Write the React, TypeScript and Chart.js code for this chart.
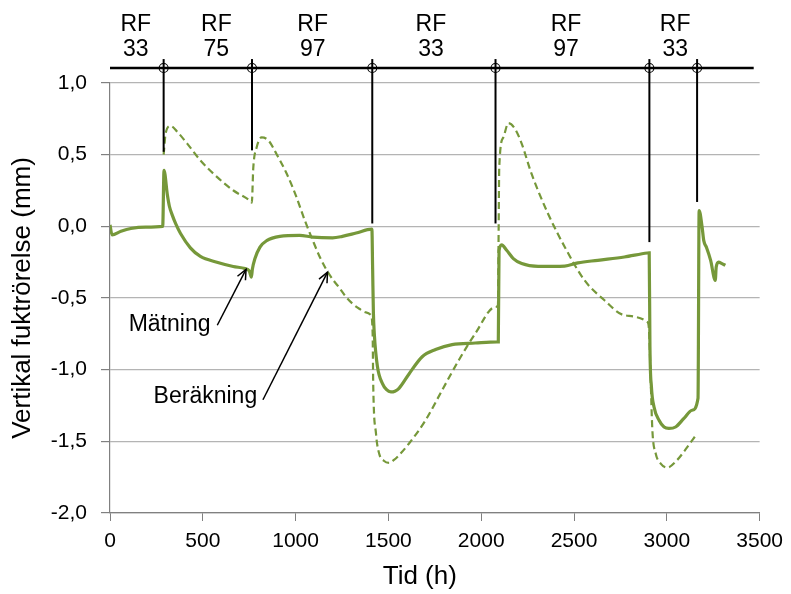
import React, { useEffect, useRef } from "react";
import { Chart, registerables } from "chart.js";

Chart.register(...registerables);

// Measured vertical moisture movement (Mätning)
const measTime = [
  0, 11, 59, 112, 193, 284, 291, 309, 320, 335, 355, 380, 433, 487, 576, 664, 728, 750, 762, 767,
  781, 808, 844, 915, 1022, 1092, 1199, 1252, 1326, 1411, 1415, 1419, 1424, 1441, 1468, 1490, 1513,
  1535, 1557, 1611, 1682, 1754, 1843, 1968, 2084, 2092, 2096, 2110, 2137, 2173, 2218, 2307, 2450,
  2521, 2628, 2771, 2895, 2905, 2909, 2917, 2931, 2958, 2985, 3011, 3047, 3092, 3136, 3168, 3174,
  3190, 3199, 3213, 3236, 3261, 3266, 3279, 3297, 3315,
];
const measValue = [
  0.01, -0.06, -0.035, -0.015, -0.005, 0.0, 0.39, 0.22, 0.14, 0.08, 0.015, -0.05, -0.15, -0.21,
  -0.25, -0.28, -0.295, -0.31, -0.355, -0.3, -0.225, -0.145, -0.1, -0.07, -0.063, -0.075, -0.08,
  -0.07, -0.047, -0.02, -0.3, -0.6, -0.75, -0.98, -1.097, -1.14, -1.155, -1.15, -1.13, -1.03, -0.91,
  -0.86, -0.825, -0.814, -0.806, -0.806, -0.17, -0.13, -0.167, -0.225, -0.26, -0.28, -0.277, -0.255,
  -0.237, -0.214, -0.186, -0.185, -0.84, -1.12, -1.26, -1.353, -1.4, -1.41, -1.4, -1.34, -1.283,
  -1.2, 0.11, -0.005, -0.1, -0.145, -0.237, -0.377, -0.284, -0.25, -0.26, -0.272,
];

// Calculated vertical moisture movement (Beräkning)
const calcTime = [
  289, 300, 326, 362, 416, 487, 576, 665, 755, 764, 772, 790, 817, 853, 897, 951, 1000, 1050, 1093,
  1129, 1165, 1200, 1236, 1270, 1307, 1343, 1379, 1406, 1415, 1418, 1433, 1450, 1475, 1504, 1530,
  1557, 1611, 1700, 1789, 1879, 1968, 2075, 2090, 2094, 2097, 2119, 2146, 2182, 2218, 2271, 2360,
  2450, 2557, 2664, 2771, 2895, 2904, 2913, 2922, 2940, 2967, 3002, 3056, 3110, 3163,
];
const calcValue = [
  0.5, 0.65, 0.7, 0.66, 0.577, 0.46, 0.345, 0.25, 0.177, 0.165, 0.41, 0.55, 0.62, 0.6, 0.505, 0.37,
  0.22, 0.04, -0.1, -0.21, -0.3, -0.37, -0.43, -0.49, -0.54, -0.575, -0.6, -0.62, -0.75, -1.095,
  -1.445, -1.585, -1.635, -1.65, -1.63, -1.597, -1.515, -1.353, -1.144, -0.934, -0.748, -0.563,
  -0.55, 0.0, 0.41, 0.62, 0.72, 0.68, 0.577, 0.367, 0.088, -0.144, -0.377, -0.516, -0.62, -0.667,
  -0.725, -1.074, -1.42, -1.585, -1.655, -1.683, -1.63, -1.54, -1.446,
];

// Climate changes (RF) at the top
const eventTime = [289, 765, 1413, 2077, 2906, 3163];
const eventLineEnd = [0.52, 0.53, 0.02, 0.02, -0.11, 0.17];
const eventLineTop = 1.167;
const topLineLevel = 1.105;
const topLineStart = 0;
const topLineEnd = 3468;
const rfLabelTime = [139, 573, 1092, 1729, 2457, 3045];
const rfLabelValue = ["33", "75", "97", "33", "97", "33"];
const rfRowValue = [1.41, 1.235];

// Arrow annotations
const arrowText = ["Mätning", "Beräkning"];
const arrowTextTime = [321, 514];
const arrowTextValue = [-0.683, -1.19];
const arrowTailTime = [578, 824];
const arrowTailValue = [-0.69, -1.21];
const arrowTipTime = [733, 1172];
const arrowTipValue = [-0.3, -0.32];

const xMin = 0;
const xMax = 3500;
const xStep = 500;
const yMin = -2;
const yMax = 1;
const yStep = 0.5;

const FONT = "'Liberation Sans', Arial, sans-serif";
const GREEN = "#76983a";

const overlayPlugin = {
  id: "overlay",
  afterDraw(chart: any) {
    const { ctx, chartArea } = chart;
    const x = chart.scales.x;
    const y = chart.scales.y;
    ctx.save();
    ctx.strokeStyle = "#000";
    ctx.fillStyle = "#000";

    // top horizontal line
    const yTop = y.getPixelForValue(topLineLevel);
    ctx.lineWidth = 2.5;
    ctx.beginPath();
    ctx.moveTo(x.getPixelForValue(topLineStart), yTop);
    ctx.lineTo(x.getPixelForValue(topLineEnd), yTop);
    ctx.stroke();

    // vertical event lines with circles
    eventTime.forEach((t, i) => {
      const px = x.getPixelForValue(t);
      ctx.lineWidth = 2;
      ctx.beginPath();
      ctx.moveTo(px, y.getPixelForValue(eventLineTop));
      ctx.lineTo(px, y.getPixelForValue(eventLineEnd[i]));
      ctx.stroke();
      ctx.lineWidth = 1.1;
      ctx.beginPath();
      ctx.arc(px, yTop, 4.5, 0, Math.PI * 2);
      ctx.stroke();
    });

    // RF labels
    ctx.font = `23px ${FONT}`;
    ctx.textAlign = "center";
    ctx.textBaseline = "middle";
    rfLabelTime.forEach((t, i) => {
      const px = x.getPixelForValue(t);
      ctx.fillText("RF", px, y.getPixelForValue(rfRowValue[0]));
      ctx.fillText(rfLabelValue[i], px, y.getPixelForValue(rfRowValue[1]));
    });

    // arrows
    ctx.lineWidth = 1.5;
    arrowText.forEach((txt, i) => {
      const x0 = x.getPixelForValue(arrowTailTime[i]);
      const y0 = y.getPixelForValue(arrowTailValue[i]);
      const x1 = x.getPixelForValue(arrowTipTime[i]);
      const y1 = y.getPixelForValue(arrowTipValue[i]);
      ctx.beginPath();
      ctx.moveTo(x0, y0);
      ctx.lineTo(x1, y1);
      ctx.stroke();
      const ang = Math.atan2(y1 - y0, x1 - x0);
      const hl = 11;
      const spread = 0.42;
      ctx.beginPath();
      ctx.moveTo(x1 - hl * Math.cos(ang - spread), y1 - hl * Math.sin(ang - spread));
      ctx.lineTo(x1, y1);
      ctx.lineTo(x1 - hl * Math.cos(ang + spread), y1 - hl * Math.sin(ang + spread));
      ctx.stroke();
      ctx.font = `23px ${FONT}`;
      ctx.textAlign = "center";
      ctx.textBaseline = "middle";
      ctx.fillText(txt, x.getPixelForValue(arrowTextTime[i]), y.getPixelForValue(arrowTextValue[i]));
    });

    // x axis title
    ctx.font = `26px ${FONT}`;
    ctx.textAlign = "center";
    ctx.textBaseline = "middle";
    ctx.fillText("Tid (h)", (chartArea.left + chartArea.right) / 2 - 15, 577);

    ctx.restore();
  },
};

export default function App() {
  const canvasRef = useRef<HTMLCanvasElement | null>(null);

  useEffect(() => {
    document.body.style.margin = "0";
    const canvas = canvasRef.current;
    if (!canvas) return;
    const chart = new Chart(canvas, {
      type: "line",
      data: {
        datasets: [
          {
            label: "Mätning",
            data: measTime.map((t, i) => ({ x: t, y: measValue[i] })),
            borderColor: GREEN,
            borderWidth: 3.2,
            pointRadius: 0,
            fill: false,
            cubicInterpolationMode: "monotone",
          },
          {
            label: "Beräkning",
            data: calcTime.map((t, i) => ({ x: t, y: calcValue[i] })),
            borderColor: GREEN,
            borderWidth: 2.2,
            borderDash: [7, 4],
            pointRadius: 0,
            fill: false,
            cubicInterpolationMode: "monotone",
          },
        ],
      },
      options: {
        animation: false,
        responsive: false,
        devicePixelRatio: 1,
        layout: { padding: { top: 83, right: 28, left: 0, bottom: 0 } },
        plugins: {
          legend: { display: false },
          tooltip: { enabled: false },
        },
        scales: {
          x: {
            type: "linear",
            min: xMin,
            max: xMax,
            ticks: {
              stepSize: xStep,
              font: { family: FONT, size: 21 },
              color: "#000",
              padding: 8,
              maxRotation: 0,
              callback: (v: any) => String(v),
            },
            grid: {
              drawOnChartArea: false,
              tickLength: 8,
              tickColor: "#808080",
            },
            border: { color: "#808080", width: 1.2 },
            afterFit: (scale: any) => {
              scale.height = 81;
            },
          },
          y: {
            type: "linear",
            min: yMin,
            max: yMax,
            ticks: {
              stepSize: yStep,
              font: { family: FONT, size: 21 },
              color: "#000",
              padding: 14,
              callback: (v: any) => Number(v).toFixed(1).replace(".", ","),
            },
            grid: {
              color: "#b4b4b4",
              lineWidth: 1.2,
              tickLength: 9,
              tickColor: "#808080",
            },
            border: { color: "#808080", width: 1.2 },
            title: {
              display: true,
              text: "Vertikal fuktrörelse (mm)",
              font: { family: FONT, size: 26 },
              color: "#000",
              padding: { top: 7, bottom: 0 },
            },
            afterFit: (scale: any) => {
              scale.width = 110;
            },
          },
        },
      },
      plugins: [overlayPlugin],
    });
    return () => chart.destroy();
  }, []);

  return (
    <div style={{ width: 791, height: 594, background: "#fff" }}>
      <canvas ref={canvasRef} width={791} height={594} style={{ display: "block" }} />
    </div>
  );
}
